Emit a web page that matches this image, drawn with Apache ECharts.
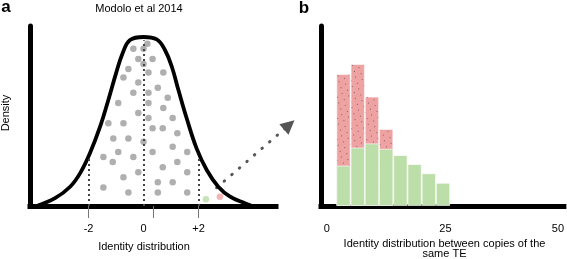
<!DOCTYPE html>
<html>
<head>
<meta charset="utf-8">
<script src="https://cdn.jsdelivr.net/npm/echarts@6/dist/echarts.min.js"></script>
<style>
html, body { margin: 0; padding: 0; background: #fff; }
#chart { width: 567px; height: 259px; }
</style>
</head>
<body>
<div id="chart"></div>
<script>
// panel a: bell curve (x in SD units, y relative density)
const curveX = [-3.89, -3.22, -2.67, -2.31, -1.95, -1.58, -1.28, -1.00, -0.76, -0.49, 0, 0.48, 0.78, 1.03, 1.27, 1.57, 1.93, 2.30, 2.72, 3.15, 3.69, 3.95]
const curveY = [0, 0.046, 0.114, 0.193, 0.312, 0.469, 0.627, 0.785, 0.904, 0.982, 1.0, 0.986, 0.923, 0.824, 0.686, 0.519, 0.341, 0.213, 0.114, 0.055, 0.016, 0]
const grayDots = [
  [0.14, 0.96], [-0.37, 0.93], [0, 0.93], [-0.19, 0.87], [0.33, 0.87], [0, 0.84],
  [-0.55, 0.81], [0.18, 0.79], [0.72, 0.79], [-0.73, 0.76], [-0.19, 0.73], [0.52, 0.70],
  [-0.37, 0.67], [0.18, 0.67], [0.88, 0.64], [-0.92, 0.61], [0.18, 0.61], [0.72, 0.58],
  [-0.19, 0.55], [0.18, 0.52], [1.06, 0.52], [-1.28, 0.49], [-0.73, 0.49], [0.33, 0.46],
  [0.70, 0.46], [1.23, 0.43], [-1.10, 0.40], [-0.55, 0.40], [0, 0.38], [1.06, 0.35],
  [-0.92, 0.32], [0.33, 0.32], [1.59, 0.32], [-1.46, 0.29], [-0.37, 0.29], [-1.12, 0.26],
  [1.23, 0.26], [0.70, 0.23], [1.59, 0.20], [-0.19, 0.20], [-0.73, 0.17], [0.52, 0.14],
  [1.06, 0.14], [-1.46, 0.11], [-0.55, 0.08], [0.52, 0.08], [1.59, 0.08]
]
const greenDot = [2.27, 0.04]
const redDot = [2.78, 0.055]
const guideX = [-2, 0, 2]
const guideTop = [0.29, 0.98, 0.29]
const tickValues = [-2, 0.36, 2]
const tickLabels = [-2, 0, 2]
const arrowFrom = [2.66, 0.108]
const arrowTo = [5.3, 0.48]

// panel b: histogram, bins of 3
const binCenters = [3.5, 6.5, 9.5, 12.5, 15.5, 18.5, 21.5, 24.5]
const redValues = [73.3, 78.9, 60.8, 42.8]
const greenValues = [22.5, 32.5, 34.8, 31.8, 28.3, 23.3, 18.2, 12.9]
const binTicks = [0, 25, 50]

const font = '"Liberation Sans", Arial, sans-serif'
const label = { color: '#000', fontSize: 11, fontFamily: font }

const option = {
  animation: false,
  grid: [
    { left: 30, right: 291, top: 26, bottom: 53 },
    { left: 321, right: 0, top: 26, bottom: 53 }
  ],
  xAxis: [
    {
      gridIndex: 0, type: 'value', min: -4.13, max: 4.82,
      splitLine: { show: false },
      axisLine: { onZero: false, lineStyle: { color: '#000', width: 5, cap: 'square' } },
      axisTick: { show: true, customValues: tickValues, length: 12, lineStyle: { color: '#777', width: 1 } },
      axisLabel: { ...label, customValues: tickLabels, margin: 17, formatter: (v) => v > 0 ? '+' + v : String(v) }
    },
    {
      gridIndex: 1, type: 'value', min: -1.25, max: 50,
      splitLine: { show: false },
      axisLine: { onZero: false, lineStyle: { color: '#000', width: 5, cap: 'square' } },
      axisTick: { show: false },
      axisLabel: {
        ...label, customValues: binTicks, margin: 17, showMaxLabel: true, showMinLabel: true,
        formatter: (v) => v === 50 ? '{end|50}' : String(v),
        rich: { end: { ...label, padding: [0, 12, 0, 0] } }
      }
    }
  ],
  yAxis: [
    {
      gridIndex: 0, type: 'value', min: 0, max: 1.065,
      splitLine: { show: false },
      axisLine: { show: true, onZero: false, lineStyle: { color: '#000', width: 5 } },
      axisTick: { show: false }, axisLabel: { show: false }
    },
    {
      gridIndex: 1, type: 'value', min: 0, max: 100,
      splitLine: { show: false },
      axisLine: { show: true, onZero: false, lineStyle: { color: '#000', width: 5 } },
      axisTick: { show: false }, axisLabel: { show: false }
    }
  ],
  series: [
    {
      type: 'scatter', xAxisIndex: 0, yAxisIndex: 0,
      symbolSize: 6.5, itemStyle: { color: '#9b9b9b' },
      data: grayDots,
      markLine: {
        silent: true, symbol: 'none', label: { show: false },
        lineStyle: { color: '#444', width: 2, type: [2, 3] },
        data: guideX.map((x, i) => [{ coord: [x, 0] }, { coord: [x, guideTop[i]] }])
      }
    },
    {
      type: 'scatter', xAxisIndex: 0, yAxisIndex: 0,
      symbolSize: 6.5, itemStyle: { color: '#b9dca7' }, data: [greenDot]
    },
    {
      type: 'scatter', xAxisIndex: 0, yAxisIndex: 0,
      symbolSize: 6.5, itemStyle: { color: '#f2a0a0' }, data: [redDot]
    },
    {
      type: 'line', xAxisIndex: 0, yAxisIndex: 0,
      smooth: 0.4, showSymbol: false, z: 3,
      lineStyle: { color: '#000', width: 3.8 },
      data: curveX.map((x, i) => [x, curveY[i]])
    },
    {
      type: 'lines', coordinateSystem: 'cartesian2d', xAxisIndex: 0, yAxisIndex: 0,
      clip: false, symbol: ['none', 'triangle'], symbolSize: 14,
      lineStyle: { color: '#555', width: 3, type: [0.5, 9.5], cap: 'round', opacity: 1, curveness: 0 },
      data: [{ coords: [arrowFrom, arrowTo] }]
    },
    {
      type: 'bar', xAxisIndex: 1, yAxisIndex: 1,
      barWidth: 14.4, barGap: '-100%',
      itemStyle: {
        color: '#efa2a2', borderColor: 'rgba(255,255,255,0.35)', borderWidth: 1,
        decal: {
          symbol: 'rect', symbolSize: 1, color: 'rgba(80,70,70,0.7)',
          dashArrayX: [[1, 6], [0, 3, 1, 3]], dashArrayY: [1, 4], rotation: 0.35
        }
      },
      data: redValues.map((v, i) => [binCenters[i], v])
    },
    {
      type: 'bar', xAxisIndex: 1, yAxisIndex: 1,
      barWidth: 14.4, barGap: '-100%',
      itemStyle: { color: '#bcdea9', borderColor: 'rgba(255,255,255,0.6)', borderWidth: 1 },
      data: greenValues.map((v, i) => [binCenters[i], v])
    }
  ],
  graphic: [
    { type: 'text', x: 6, y: 7.5, style: { text: 'a', font: 'bold 17px ' + font, fill: '#000', align: 'center', verticalAlign: 'middle' } },
    { type: 'text', x: 304, y: 8.5, style: { text: 'b', font: 'bold 17px ' + font, fill: '#000', align: 'center', verticalAlign: 'middle' } },
    { type: 'text', x: 139, y: 8.5, style: { text: 'Modolo et al 2014', font: '11px ' + font, fill: '#000', align: 'center', verticalAlign: 'middle' } },
    { type: 'text', x: 6, y: 113, rotation: Math.PI / 2, style: { text: 'Density', font: '11px ' + font, fill: '#000', align: 'center', verticalAlign: 'middle' } },
    { type: 'text', x: 144, y: 247, style: { text: 'Identity distribution', font: '11px ' + font, fill: '#000', align: 'center', verticalAlign: 'middle' } },
    { type: 'text', x: 444.5, y: 238.5, style: { text: 'Identity distribution between copies of the\nsame TE', font: '11px ' + font, lineHeight: 10.5, fill: '#000', align: 'center', verticalAlign: 'top' } }
  ]
}

const myChart = echarts.init(document.getElementById('chart'))
myChart.setOption(option)
</script>
</body>
</html>
